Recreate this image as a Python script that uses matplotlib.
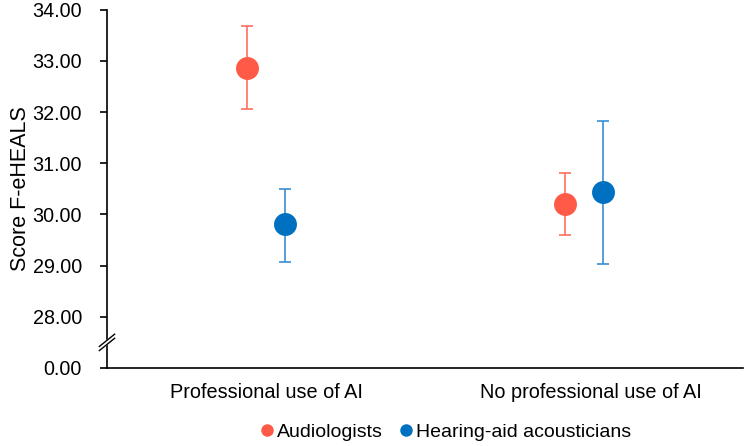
import numpy as np
import matplotlib
matplotlib.use('Agg')
import matplotlib.pyplot as plt
from matplotlib.lines import Line2D

plt.rcParams['font.family'] = ['Liberation Sans', 'DejaVu Sans']

# dati
categories = ['Professional use of AI', 'No professional use of AI']
series = ['Audiologists', 'Hearing-aid acousticians']
means = {
    'Audiologists': [32.87, 30.21],
    'Hearing-aid acousticians': [29.81, 30.43],
}
lower = {
    'Audiologists': [32.06, 29.59],
    'Hearing-aid acousticians': [29.08, 29.03],
}
upper = {
    'Audiologists': [33.69, 30.81],
    'Hearing-aid acousticians': [30.50, 31.83],
}
ytick_vals = [27, 28, 29, 30, 31, 32, 33, 34]
ytick_labels = ['0.00', '28.00', '29.00', '30.00', '31.00', '32.00', '33.00', '34.00']

marker_colors = {'Audiologists': '#FF5A47', 'Hearing-aid acousticians': '#0070C0'}
err_colors = {'Audiologists': '#FF6E5E', 'Hearing-aid acousticians': '#3A8ED4'}
offsets = {'Audiologists': -0.06, 'Hearing-aid acousticians': 0.06}

fig = plt.figure(figsize=(7.44, 4.46), dpi=100)
ax = fig.add_axes([0.1438, 0.175, 0.855, 0.803])

x = np.arange(len(categories)) + 0.5
for s in series:
    m = np.array(means[s])
    lo = m - np.array(lower[s])
    hi = np.array(upper[s]) - m
    ax.errorbar(x + offsets[s], m, yerr=[lo, hi], fmt='none',
                ecolor=err_colors[s], elinewidth=1.2, capsize=4, capthick=1.2, zorder=2)
    ax.plot(x + offsets[s], m, 'o', color=marker_colors[s], markersize=16.5,
            markeredgewidth=0, zorder=3)

ax.set_xlim(0, 2)
ax.set_ylim(27, 34)
ax.set_yticks(ytick_vals)
ax.set_yticklabels(ytick_labels)
# le etichette della seconda categoria sono un po' spostate a destra nell'originale
ax.set_xticks(x + np.array([0.0, 0.02]))
ax.set_xticklabels(categories)
ax.tick_params(axis='x', length=0, labelsize=14.3, pad=11)
ax.tick_params(axis='y', length=5, width=1.2, labelsize=14.2, pad=13, direction='out')
ax.spines['top'].set_visible(False)
ax.spines['right'].set_visible(False)
ax.spines['left'].set_linewidth(1.2)
ax.spines['bottom'].set_linewidth(1.2)
ax.set_ylabel('Score F-eHEALS', fontsize=15.5, labelpad=1)

# segno di interruzione asse
yb = 27.5
dx, dy = 0.012, 0.12
gap = 0.08
ax.fill([-dx, dx, dx, -dx], [yb - gap / 2 - dy, yb - gap / 2 + dy, yb + gap / 2 + dy, yb + gap / 2 - dy],
        color='white', transform=ax.get_yaxis_transform(), clip_on=False, zorder=5)
for g in (-gap / 2, gap / 2):
    ax.plot([-dx, dx], [yb + g - dy, yb + g + dy], color='black', lw=1.0,
            transform=ax.get_yaxis_transform(), clip_on=False, zorder=6)

handles = [Line2D([], [], marker='o', linestyle='', color=marker_colors[s], markersize=9,
                  markeredgewidth=0, label=s) for s in series]
fig.legend(handles=handles, loc='center', bbox_to_anchor=(0.597, 0.031), ncol=2, frameon=False,
           fontsize=14.0, handletextpad=0.0, columnspacing=0.7, handlelength=1.0)

fig.savefig('out.png', dpi=100)
